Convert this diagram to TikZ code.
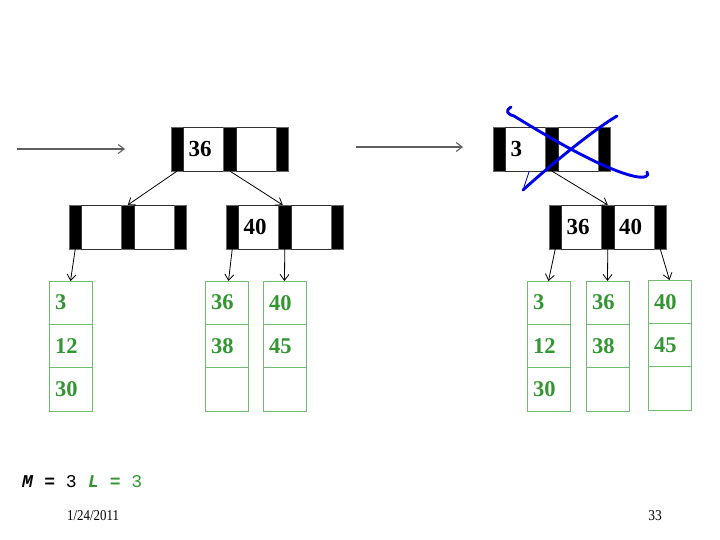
\documentclass[tikz,border=0pt]{standalone}
\usepackage{fontspec}
\setmainfont{Liberation Serif}
\newfontfamily\monofnt{Liberation Mono}
\usetikzlibrary{arrows.meta,calc}
\definecolor{leafgreen}{RGB}{51,150,51}
\definecolor{leafline}{RGB}{110,190,110}
\definecolor{penblue}{RGB}{0,0,235}
\definecolor{entrygray}{RGB}{95,95,95}
\tikzset{
  bar/.style={draw=black!60, fill=black, minimum width=12.5pt, minimum height=44pt, inner sep=0pt, outer sep=0pt, anchor=north west, line width=0.6pt},
  icell/.style={draw=black!80, fill=white, minimum width=40pt, minimum height=44pt, text width=30pt, inner xsep=5pt, inner ysep=0pt, align=left, outer sep=0pt, anchor=north west, line width=0.6pt, font=\fontsize{23}{23}\selectfont\bfseries},
  lcell/.style={draw=leafline, fill=white, minimum width=43pt, minimum height=43.3pt, text width=31pt, inner xsep=6pt, inner ysep=0pt, align=left, outer sep=0pt, anchor=north west, line width=0.8pt, text=leafgreen, font=\fontsize{22.5}{22.5}\selectfont\bfseries},
  ptr/.style={draw=black, line width=0.8pt, -{Straight Barb[length=6pt,width=9pt]}},
  entry/.style={draw=entrygray, line width=1.1pt, -{Straight Barb[length=6pt,width=9pt]}},
  pen/.style={draw=penblue, line width=2.9pt, line cap=round, line join=round},
  thinpen/.style={draw=penblue, line width=0.9pt, line cap=round}
}
\newcommand\itnode[5]{%
  \node[bar] (#1b0) at (#2,#3) {};
  \node[icell] (#1c1) at (#1b0.north east) {#4};
  \node[bar] (#1b1) at (#1c1.north east) {};
  \node[icell] (#1c2) at (#1b1.north east) {#5};
  \node[bar] (#1b2) at (#1c2.north east) {};}
\newcommand\leafcol[6]{%
  \node[lcell] (#1a) at (#2,#3) {#4};
  \node[lcell] (#1b) at (#1a.south west) {#5};
  \node[lcell] (#1c) at (#1b.south west) {#6};}
\begin{document}
\begin{tikzpicture}[x=1pt,y=-1pt]
\useasboundingbox (0,0) rectangle (720,540);
% entry arrows
\coordinate (inLa) at (17,149);
\coordinate (inLb) at (125,149);
\coordinate (inRa) at (356,147);
\coordinate (inRb) at (463,147);
\draw[entry] (inLa) -- (inLb);
\draw[entry] (inRa) -- (inRb);
% left tree
\itnode{T}{171}{127}{36}{}
\itnode{ML}{69}{205}{}{}
\itnode{MR}{226}{205}{40}{}
\leafcol{LA}{49}{281}{3}{12}{30}
\leafcol{LB}{205}{281}{36}{38}{}
\leafcol{LC}{263}{281}{40}{45}{}
\draw[ptr] (Tb0.south) -- (MLb1.north);
\draw[ptr] ($(Tb1.south)$) -- ($(MRb1.north)+(-2,0)$);
\draw[ptr] (MLb0.south) -- (LAa.north);
\draw[ptr] (MRb0.south) -- ($(LBa.north)+(2,0)$);
\draw[ptr] (MRb1.south) -- (LCa.north);
% right tree
\itnode{R}{493}{127}{3}{}
\itnode{RM}{549}{205}{36}{40}
\leafcol{RA}{527}{281}{3}{12}{30}
\leafcol{RB}{586}{281}{36}{38}{}
\leafcol{RC}{648}{280}{40}{45}{}
\draw[ptr] (Rb1.south) -- (RMb1.north);
\draw[ptr] (RMb0.south) -- (RAa.north);
\draw[ptr] (RMb1.south) -- (RBa.north);
\draw[ptr] (RMb2.south) -- (RCa.north);
% blue cross
\draw[pen] (511,107) .. controls (505,111) and (507,114) .. (514,116)
  .. controls (545,135) and (600,168) .. (633,176)
  .. controls (645,179) and (650,176) .. (647,172);
\draw[pen] (617,116) .. controls (590,132) and (545,170) .. (523,190);
\draw[thinpen] (523,190) -- (529,172);
% footer
\node[anchor=base west, inner sep=0pt, font=\monofnt\fontsize{18}{18}\selectfont] (mtxt) at (22,487) {\textbf{\textit{M}}\textbf{\ =}\ 3};
\node[anchor=base west, inner sep=0pt, text=leafgreen, font=\monofnt\fontsize{18}{18}\selectfont] (ltxt) at (88,487) {\textbf{\textit{L}}\textbf{\ =}\ 3};
\node[anchor=base west, inner sep=0pt, font=\fontsize{15}{15}\selectfont] (date) at (67,520) {\scalebox{0.86}[1]{1/24/2011}};
\node[anchor=base, inner sep=0pt, font=\fontsize{15}{15}\selectfont] (pnum) at (655,520) {\scalebox{0.9}[1]{33}};
\end{tikzpicture}
\end{document}
